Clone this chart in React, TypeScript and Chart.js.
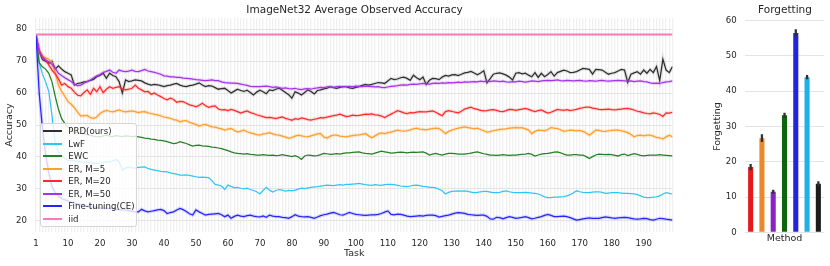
import React, { useEffect, useRef } from "react";
import { Chart, registerables } from "chart.js";
Chart.register(...registerables);

const FONT = "'DejaVu Sans', 'Liberation Sans', sans-serif";
const TEXT = "#262626";

// x positions (task index) and their tick labels
const taskPositions = Array.from({ length: 200 }, (_, i) => i);
const xTickValues = [0, 10, 20, 30, 40, 50, 60, 70, 80, 90, 100, 110, 120, 130, 140, 150, 160, 170, 180, 190];
const xTickLabels = ["1", "10", "20", "30", "40", "50", "60", "70", "80", "90", "100", "110", "120", "130", "140", "150", "160", "170", "180", "190"];
const yTicks = [20, 30, 40, 50, 60, 70, 80];

const prd = [78,73,70.5,70,69.3,70,67.5,68.5,67.5,66.7,
66.2,65.7,62.5,63,63.2,63.5,63.6,64,64.3,65.1,
65.5,66.2,64.6,66.2,65.5,65.1,63.5,60,64.1,63.6,
63.8,64.1,64,63.8,63.2,62.8,62.5,62.7,62.6,62.3,
62,62.3,62.5,62.8,63,62.5,62.2,62,62.3,62.5,
62.8,63.2,62.5,62,62.3,62.2,61.7,61.2,61.4,61.5,
60.8,60,60.6,61.2,60.8,60.5,60.9,60.2,59.4,60.3,
60.9,60.4,59.8,61,60.8,61.2,61.5,60.9,60.2,59.5,
58.4,60.4,60,59.4,60.2,61,60.5,59.7,60.8,61,
61.3,61.5,62,61.7,61.5,61.8,62,62,61.6,61.5,
61.8,62,62.4,62.7,62.5,62.7,63,63.3,63.2,63,
63.8,64.6,64.2,64.4,64.8,65,64.6,64,65.6,64.8,
64.2,65,62.7,64,64.6,64.5,64.2,65,65.5,65.3,
65.7,65.8,65.5,65.9,66.3,66.5,66.8,66.3,65.7,66.3,
67,63.2,64.5,65.9,66.2,66.3,66,65.6,65,64.1,
66.2,66.4,66,66.2,65.6,65.1,66.4,64.9,66.2,65.1,
65.8,66.7,65.3,66.4,66.8,67.2,66.9,66.4,66.5,66.7,
67.2,67.7,67.6,67.4,65.9,67.4,67.3,67.2,66.5,65.9,
66.2,66.4,66.9,67.4,67.2,63.3,65.9,66.3,66.7,65.9,
67.2,66.2,67.4,66.4,68.3,63.9,70.6,67.2,66.4,68.3];

const lwf = [78,69.5,66,63.5,60.5,53,44.3,41.5,40.5,39.5,
39,38.9,38.8,38.6,38.5,38.4,38.3,38.2,38.1,38,
38,38.2,38.5,38.4,38.8,39.2,38.5,35.9,36.5,36.9,
36.6,36.5,36.7,36.8,36.9,36.4,36.1,35.9,35.7,35.5,
35.4,35.3,35,34.8,34.6,34.3,34.3,34.4,34.2,34,
33.8,33.6,33.7,33.6,33.5,32.6,31.4,31.2,30.9,29.8,
31.2,30.8,30.3,30.5,30.2,30,30.2,29.8,29.5,29.1,
28.4,29.5,30.5,29.6,29,29.5,29.8,29.6,29.3,29.5,
29.4,29.6,29.9,30.2,30.1,30.3,30.5,30.6,30.7,30.9,
31,31.2,31.1,31,31.2,31.3,31.2,31.4,31.4,31.5,
31.6,31.7,31.5,31.3,31.2,31.1,31.3,31.2,31.1,31.3,
31.4,31.4,31.3,31.1,30.9,30.8,30.7,30.9,31.1,31.2,
31,30.8,30.7,30.5,30.5,30.3,29.9,29.4,28.4,28.9,
29.2,29.3,29.4,29.3,29.4,29.2,29,28.8,28.9,29.1,
29.2,29.2,29,28.8,28.8,28.9,29.2,29.4,29.1,28.9,
28.8,28.8,28.8,28.9,28.8,28.7,28.6,28.4,28,27.5,
27.3,27.3,27.4,27.4,27.5,27.6,27.8,28.2,28.7,29.4,
29.1,28.9,28.8,28.8,29,29.1,29.1,28.9,28.6,28.7,
28.8,28.8,28.8,28.7,28.6,28.6,28.5,28.4,28.2,27.8,
27.4,27.3,27.3,27.4,27.5,27.8,28.4,28.8,28.6,28.4];

const ewc = [78,69.5,68.2,67.5,66.2,63.5,59,55,52,50.5,
49.4,48.6,47.8,47.6,47.3,47.2,47,46.7,46.5,46.4,
46.3,46.6,46.8,46.5,46.4,46.7,46.5,46.4,46.6,46.5,
46.4,46.5,46.3,46.1,45.9,45.8,45.6,45.5,45.3,45.2,
45,44.8,44.5,44.2,44.3,44.8,44.5,44.2,43.8,43.4,
43.6,43.7,43.5,43.4,43.3,43.1,43,42.8,42.6,42.3,
42,41.6,41.3,41.1,41,40.9,41,40.8,40.7,40.6,
40.6,40.7,40.6,40.5,40.6,40.4,40.5,40.7,40.5,40.3,
40.1,40.4,40,39.2,40.3,40.6,40.5,40.3,40.4,40.7,
41.1,41,40.8,40.9,41,40.9,41.1,41.3,41.3,41.4,
41.5,41.6,41.3,41.1,41,40.9,41.2,41.5,41.8,41.6,
41.4,41.2,41.3,41.4,41.5,41.4,41.3,41.4,41.5,41.4,
41.5,41.6,41.2,40.6,40.9,41.1,40.8,40.6,40.9,41.1,
41.1,41,40.9,40.9,40.9,41,41.2,41.4,41.6,41.3,
41,40.8,40.6,40.6,40.5,40.6,40.7,40.6,40.5,40.6,
40.6,40.7,40.8,40.9,41.1,40.8,40.3,40.6,40.9,41,
41.1,41.3,41.5,41.6,41.3,40.9,40.6,40.6,40.7,40.7,
40.6,40.6,40.1,39.5,40.1,40.6,40.9,40.8,40.7,40.8,
40.7,40.5,40.3,40.7,40.9,40.4,40.7,41,40.8,40.5,
40.3,40.5,40.6,40.6,40.6,40.7,40.6,40.5,40.4,40.3];

const er5 = [78,73,71.6,71,70.6,69.5,66.5,62.5,60.5,59,
57.3,56.5,55.4,54,52.8,52.9,53,52.3,52.1,52.5,
53.6,54.2,54.6,54.3,54.1,54.4,54.7,54.3,54.1,54.3,
54.4,54.2,53.9,54.1,54.2,53.8,53.6,53.3,53.2,52.9,
52.5,52.3,52.1,51.7,51.5,51,51.3,51.4,50.8,50.5,
50.2,49.7,50,50.2,49.8,49.4,49.3,49,48.8,48.4,
48.7,48.9,48.3,47.8,48.1,48.4,47.9,47.5,47.3,47,
46.8,47.2,47.3,47.6,47.2,46.9,46.8,46.5,46.2,45.8,
46.1,46.5,46.8,46.6,46.4,46.3,46.6,46.9,47.2,47.3,
46.2,45.9,46.5,46.8,46.8,46.5,46.4,46.3,46.5,46.7,
46.8,46.9,47.1,47.3,46.6,46,46.6,47.2,47.5,47.3,
47.6,47.8,48.1,48.4,48.2,48.1,48.2,48.5,48.8,49,
48.7,48.6,48.5,48.7,48.9,49,48.9,48.2,47.3,48,
48.4,48.7,49,49.2,49.4,49.2,49,48.8,49,48.6,
48.2,47.8,47.9,48.2,48.4,48.6,48.7,48.8,49,49.1,
49.2,49.1,49.2,48.8,48.4,47.3,48,48.4,48.3,48.2,
48.6,49.2,49,48.9,48.5,48,48.2,48.4,48.3,48.2,
48.3,48,47.5,46.8,47.6,48.4,48.3,48.1,48,48.2,
48.3,48.4,48.4,48.2,47.9,47.6,47,46.3,46.7,46.8,
46.6,46.8,46.8,46.5,46.1,46,45.6,46.3,46.8,46.3];

const er20 = [78,73.5,71.5,70.4,68.8,67.2,66,64.5,62.5,63,
62,61.5,60.3,59.3,59.1,60.2,61,59.6,61.5,60.4,
62,60.1,61.2,62,61.5,61.8,62,61.3,61,61.2,
61.5,62.5,61.5,61,60.4,60.5,59.6,60,59.4,58.9,
58.3,57.9,58.4,58,57.1,57.4,57.3,56.8,56.3,56.1,
55.7,56.2,56.8,56,55.5,55.8,56,55,54.7,54.8,
54.5,54.9,54.6,54.2,53.7,54.1,54.4,53.9,53.6,53.2,
52.9,52.6,52.3,52.4,52.2,52,52.3,52.5,52.1,51.8,
51.5,52,51.8,52.2,52,51.7,51.5,51.8,52,52.3,
52.2,52.5,52.7,52.9,53.1,53.4,53,52.6,52.8,53.1,
52.9,53,53.2,53.4,53.3,53.5,53.2,53.1,52.8,52.3,
52.9,53.4,53.9,54.5,54.2,53.8,53.6,53.9,53.8,54,
54.2,54.1,54.1,54.3,54.4,54,53.4,52.9,54.2,54.5,
54.3,54,53.8,54.3,55,55.3,55.6,55.1,54.9,54.6,
54.4,54.5,54.7,54.8,54.6,54.3,54.2,54.5,54.9,54.8,
54.6,54.8,55,55.2,54.9,54.5,54.2,54.5,54.7,54.2,
53.7,54,54.4,54.9,54.7,54.6,54.8,54.5,54.7,54.9,
55.2,55.4,55.6,55.6,55.3,55.1,54.9,54.8,54.9,55,
54.8,54.7,54.9,55,55.1,55.2,55,54.7,54.3,54.1,
53.8,53.6,53.5,53.8,53.6,53.3,52.7,53.8,53.7,54];

const er50 = [78,73,71,70.3,69.8,69,67.8,66.2,65.5,64.8,
64.2,63.6,62.8,62.3,62.5,63.1,63.6,64.1,64.8,65.4,
65.8,66.4,66.8,67.2,66.5,66.2,67.2,66.9,66.7,66.9,
67.2,66.8,66.7,67,67.4,66.9,66.7,66.5,66.2,65.9,
65.4,65.3,65.1,65.1,64.9,64.9,64.7,64.6,64.5,64.4,
64.2,64.1,64,63.9,64,64.1,63.9,63.9,63.5,63.3,
63.2,63.1,63.1,63,62.8,62.6,62.4,62.1,62,62,
62,62.1,62.2,62,61.8,61.9,61.7,61.5,61.6,61.4,
61.3,61.5,61.2,61.1,61.3,61.4,61.2,61.5,61.6,61.8,
61.7,61.9,62,61.8,62,62.1,61.9,62,62.1,62,
62.2,62.1,62,62.2,62.1,62,61.9,62,61.8,61.7,
61.9,62.1,62.2,62.3,62.5,62.6,62.5,62.7,62.8,62.7,
62.9,63,62.9,62.8,63,63.1,63,63.2,63.1,63.3,
63.2,63.3,63.4,63.3,63.5,63.4,63.5,63.6,63.5,63.7,
63.6,63.7,63.6,63.8,63.7,63.6,63.7,63.5,63.4,63.6,
63.5,63.7,63.6,63.4,63.6,63.8,63.7,63.6,63.8,63.9,
64,63.9,64,64.1,63.9,63.8,64,63.9,63.8,63.9,
64,63.8,63.7,63.9,63.8,63.7,63.9,64,63.8,63.7,
63.8,63.9,64,63.9,63.8,63.7,63.8,63.6,63.7,63.8,
63.6,63.5,63.2,63,63.1,63,63.3,63.5,63.6,63.8];

const ft = [78,60,49,41,35,30.7,28.8,27.8,27,26.6,
26.2,25.8,25.5,25.3,25,24.8,24.6,24.4,24.3,24.2,
24,24,23.9,23.9,23.7,23.6,23.5,23.4,23.4,23.2,
23,22.8,22.8,23.6,23.1,22.8,23,23.2,23.4,23.6,
23.2,22.3,22.6,22.8,23.4,23.9,23.5,22.9,22.2,21.8,
23.4,22.8,22.3,21.8,22,22.1,22.2,22.3,21.9,21.3,
21.8,20.8,21.4,21.8,21.5,21.3,21.6,21.8,21.5,21.3,
21.2,21.5,21.1,21.8,21.5,21.3,21.3,21.1,21,20.8,
21.3,21.9,21.5,21.3,21.2,21.3,21.1,20.8,21.2,21.6,
21.9,22.1,22.4,22.6,22.3,21.9,21.8,22.2,22.6,22.3,
22,21.9,21.8,21.7,21.8,21.9,21.9,22,22.3,22.7,
23.1,22,21.9,22.1,22,21.8,21.5,21.3,21.4,21.5,
21.6,21.5,21.7,21.8,21.8,21.6,21.2,21.4,21.6,21.8,
22.1,22.4,22.6,22.5,22.3,22,21.9,21.8,21.7,21.8,
21.8,21.4,20.6,20.5,21.1,21,20.6,21,21.3,21.1,
20.8,20.9,21.1,21.3,21,20.6,20.8,21.1,21.3,21.7,
22,21.7,21.3,21.3,21.4,21.5,21.3,21,20.6,20.2,
20.4,20.6,20.8,20.9,20.8,20.8,20.8,21,21.2,21.1,
20.9,20.8,20.9,21,21.1,21,20.8,20.6,20.5,20.6,
20.8,20.7,20.4,20.2,20.5,20.8,20.7,20.5,20.4,20.2];

// iid upper bound: value at first and last task position
const iidTasks = [0, 199];
const iid = [78.3, 78.3];

// Forgetting bar chart
const methods = ["ER, M=20", "ER, M=5", "ER, M=50", "EWC", "Fine-tuning(CE)", "LwF", "PRD(ours)"];
const forgetting = [18.5, 26.7, 11.5, 33.2, 56.5, 44.0, 13.8];
const forgettingErr = [0.8, 1.0, 0.5, 0.6, 1.0, 0.5, 0.6];
const barColors = ["#e31b1b", "#e8892a", "#8b22c4", "#0f6410", "#2424e0", "#1fb0e6", "#1c1c1c"];

const series = [
  { label: "PRD(ours)", values: prd, color: "#2e2e2e", halo: "rgba(46,46,46,0.12)" },
  { label: "LwF", values: lwf, color: "#2fc6f5", halo: null },
  { label: "EWC", values: ewc, color: "#248024", halo: null },
  { label: "ER, M=5", values: er5, color: "#ff9f2e", halo: "rgba(255,159,46,0.2)" },
  { label: "ER, M=20", values: er20, color: "#ff2a2a", halo: "rgba(255,42,42,0.16)" },
  { label: "ER, M=50", values: er50, color: "#a533e8", halo: "rgba(165,51,232,0.16)" },
  { label: "Fine-tuning(CE)", values: ft, color: "#2525ff", halo: "rgba(37,37,255,0.16)" },
  { label: "iid", values: iid, tasks: iidTasks, color: "#f77ab9", halo: null, width: 2 },
];

export default function App() {
  const mainRef = useRef<HTMLCanvasElement>(null);
  const barRef = useRef<HTMLCanvasElement>(null);

  useEffect(() => {
    const n = series.length;
    const datasets: any[] = [];
    series.forEach((s: any, i) => {
      const pts = s.values.map((y: number, j: number) => ({ x: s.tasks ? s.tasks[j] : taskPositions[j], y }));
      if (s.halo) {
        datasets.push({
          label: s.label + " band",
          data: pts,
          borderColor: s.halo,
          borderWidth: 3.4,
          pointRadius: 0,
          tension: 0,
          fill: false,
          order: 2 * (n - i) + 1,
        });
      }
      datasets.push({
        label: s.label,
        data: pts,
        borderColor: s.color,
        backgroundColor: s.color,
        borderWidth: s.width || 1.25,
        pointRadius: 0,
        tension: 0,
        fill: false,
        order: 2 * (n - i),
      });
    });

    const main = new Chart(mainRef.current!, {
      type: "line",
      data: { datasets },
      options: {
        responsive: false,
        animation: false,
        layout: { padding: 0 },
        plugins: {
          legend: { display: false },
          tooltip: { enabled: false },
          title: {
            display: true,
            text: "ImageNet32 Average Observed Accuracy",
            color: TEXT,
            font: { family: FONT, size: 10.5, weight: "normal" },
            padding: { top: 4.4, bottom: 1 },
          },
        },
        scales: {
          x: {
            type: "linear",
            min: 0,
            max: 199,
            afterBuildTicks: (s: any) => {
              s.ticks = taskPositions.map((v) => ({ value: v }));
            },
            afterFit: (s: any) => {
              s.height = 34;
            },
            ticks: {
              autoSkip: false,
              maxRotation: 0,
              padding: 6.5,
              color: TEXT,
              font: { family: FONT, size: 8.6 },
              callback: (v: any) => {
                const k = xTickValues.indexOf(Number(v));
                return k >= 0 ? xTickLabels[k] : "";
              },
            },
            grid: { color: "#f0f0f0", lineWidth: 1.3, drawTicks: false },
            border: { display: false },
            title: {
              display: true,
              text: "Task",
              color: TEXT,
              font: { family: FONT, size: 9.5 },
              padding: { top: 0, bottom: 6.3 },
            },
          },
          y: {
            min: 16.5,
            max: 83.5,
            afterBuildTicks: (s: any) => {
              s.ticks = yTicks.map((v) => ({ value: v }));
            },
            afterFit: (s: any) => {
              s.width = 36;
            },
            ticks: { padding: 9, color: TEXT, font: { family: FONT, size: 8.6 } },
            grid: { color: "#e4e4e4", lineWidth: 1, drawTicks: false },
            border: { display: false },
            title: {
              display: true,
              text: "Accuracy",
              color: TEXT,
              font: { family: FONT, size: 9.5 },
              padding: { top: 4.3, bottom: 0 },
            },
          },
          rightSpace: {
            position: "right",
            display: true,
            afterFit: (s: any) => {
              s.width = 36.5;
            },
            ticks: { display: false },
            grid: { display: false, drawTicks: false },
            border: { display: false },
          },
        },
      } as any,
    });

    const bars = new Chart(barRef.current!, {
      type: "bar",
      data: {
        labels: methods,
        datasets: [
          {
            label: "Forgetting",
            data: forgetting,
            backgroundColor: barColors,
            barPercentage: 0.45,
            categoryPercentage: 1,
            grouped: false,
            order: 2,
          },
          {
            label: "Forgetting error",
            data: forgetting.map((v, i) => [v - forgettingErr[i], v + forgettingErr[i]]),
            backgroundColor: "#303030",
            barThickness: 1.6,
            grouped: false,
            order: 1,
          },
        ] as any,
      },
      options: {
        responsive: false,
        animation: false,
        layout: { padding: 0 },
        plugins: {
          legend: { display: false },
          tooltip: { enabled: false },
          title: {
            display: true,
            text: "Forgetting",
            color: TEXT,
            font: { family: FONT, size: 10.5, weight: "normal" },
            padding: { top: 4.4, bottom: 3.7 },
          },
        },
        scales: {
          x: {
            afterFit: (s: any) => {
              s.height = 33.7;
            },
            ticks: { display: false },
            grid: { display: false, drawTicks: false },
            border: { display: false },
            title: {
              display: true,
              text: "Method",
              color: TEXT,
              font: { family: FONT, size: 9.5 },
              padding: { top: 0, bottom: 21.3 },
            },
          },
          y: {
            min: 0,
            max: 60,
            afterFit: (s: any) => {
              s.width = 45;
            },
            ticks: { stepSize: 10, padding: 8.3, color: TEXT, font: { family: FONT, size: 8.6 } },
            grid: { color: "#e4e4e4", lineWidth: 1, drawTicks: false },
            border: { display: false },
            title: {
              display: true,
              text: "Forgetting",
              color: TEXT,
              font: { family: FONT, size: 9.5 },
              padding: { top: 12.3, bottom: 0 },
            },
          },
          rightSpace: {
            position: "right",
            display: true,
            afterFit: (s: any) => {
              s.width = 46;
            },
            ticks: { display: false },
            grid: { display: false, drawTicks: false },
            border: { display: false },
          },
        },
      } as any,
    });

    return () => {
      main.destroy();
      bars.destroy();
    };
  }, []);

  const legendTop = 123;
  return (
    <div style={{ position: "absolute", left: 0, top: 0, width: 830, height: 266, overflow: "hidden", background: "#fff" }}>
      <canvas ref={mainRef} width={709} height={266} style={{ position: "absolute", left: 0, top: 0 }} />
      <canvas ref={barRef} width={170} height={266} style={{ position: "absolute", left: 700, top: 0 }} />
      <div
        style={{
          position: "absolute",
          left: 40,
          top: legendTop,
          width: 97,
          height: 104,
          boxSizing: "border-box",
          background: "rgba(255,255,255,0.8)",
          border: "1px solid #d6d6d6",
          borderRadius: 3,
        }}
      >
        {series.map((s, k) => (
          <div
            key={s.label}
            style={{
              position: "absolute",
              left: 0,
              top: Math.round(8 + k * 12.57 - 7),
              height: 12,
              display: "flex",
              alignItems: "center",
              whiteSpace: "nowrap",
            }}
          >
            <div style={{ marginLeft: 2.3, width: 19, height: 2, background: s.color }} />
            <span style={{ marginLeft: 6, fontFamily: FONT, fontSize: 8.6, color: TEXT, lineHeight: "12px" }}>{s.label}</span>
          </div>
        ))}
      </div>
    </div>
  );
}
